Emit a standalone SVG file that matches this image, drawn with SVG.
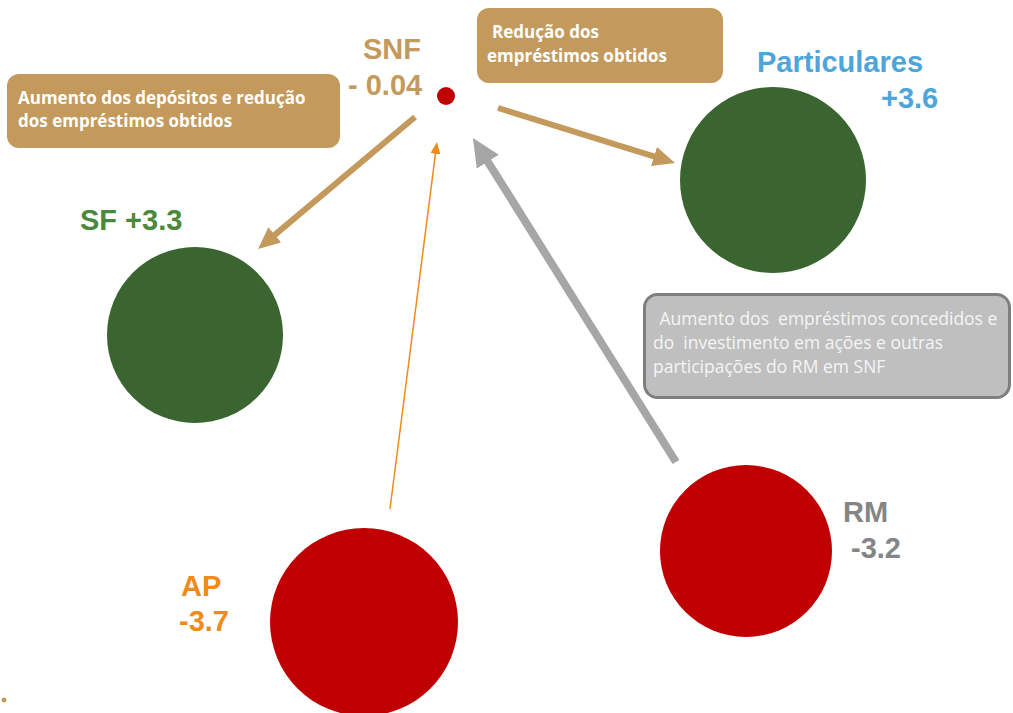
<svg xmlns="http://www.w3.org/2000/svg" width="1013" height="713" viewBox="0 0 1013 713">
<style>
.lbl{font-family:"Liberation Sans",Arial,sans-serif;font-weight:700;font-size:29px}
.tanbox{fill:#c39a5c}
.tantxt{font-family:"Open Sans","Liberation Sans",sans-serif;font-weight:700;font-size:17px;fill:#ffffff}
.graytxt{font-family:"Open Sans","Liberation Sans",sans-serif;font-size:17.5px;fill:#f5f5f5}
.tanline{stroke:#c39a5c;stroke-width:6;fill:none}
</style>
<defs>
<marker id="mTan" markerUnits="userSpaceOnUse" markerWidth="22" markerHeight="20" refX="4" refY="10" orient="auto" viewBox="0 0 22 20"><path d="M0,0 L22,10 L0,20 z" fill="#c39a5c"/></marker>
<marker id="mGray" markerUnits="userSpaceOnUse" markerWidth="28" markerHeight="26" refX="4" refY="13" orient="auto" viewBox="0 0 28 26"><path d="M0,0 L28,13 L0,26 z" fill="#a6a6a6"/></marker>
<marker id="mOrange" markerUnits="userSpaceOnUse" markerWidth="12" markerHeight="10" refX="2" refY="5" orient="auto" viewBox="0 0 12 10"><path d="M0,0 L12,5 L0,10 z" fill="#f08a1a"/></marker>
</defs>
<rect width="1013" height="713" fill="#ffffff"/>
<g id="connectors">
<line class="tanline" x1="415" y1="117" x2="271.8" y2="237.4" marker-end="url(#mTan)"/>
<line class="tanline" x1="498" y1="108" x2="657.8" y2="157.7" marker-end="url(#mTan)"/>
<line x1="676" y1="462" x2="485.7" y2="158.3" stroke="#a6a6a6" stroke-width="8" marker-end="url(#mGray)"/>
<line x1="390" y1="509" x2="435.7" y2="151.9" stroke="#f08a1a" stroke-width="1.5" marker-end="url(#mOrange)"/>
</g>
<g id="box-left">
<rect class="tanbox" x="7" y="74" width="333" height="74" rx="12"/>
<text class="tantxt" x="18" y="104">Aumento dos depósitos e redução</text>
<text class="tantxt" x="18" y="127">dos empréstimos obtidos</text>
</g>
<g id="box-top">
<rect class="tanbox" x="477" y="8" width="246" height="75" rx="12"/>
<text class="tantxt" x="492" y="38">Redução dos</text>
<text class="tantxt" x="487" y="62">empréstimos obtidos</text>
</g>
<g id="box-rm">
<rect x="644.5" y="294.5" width="365" height="103" rx="13" fill="#bfbfbf" stroke="#7f7f7f" stroke-width="3"/>
<text class="graytxt" x="655" y="325" xml:space="preserve"> Aumento dos  empréstimos concedidos e</text>
<text class="graytxt" x="653" y="349" xml:space="preserve">do  investimento em ações e outras</text>
<text class="graytxt" x="653" y="373">participações do RM em SNF</text>
</g>
<g id="node-snf">
<circle cx="446" cy="96" r="9" fill="#c00000"/>
<text class="lbl" x="363" y="59" fill="#c39a5c">SNF</text>
<text class="lbl" x="348" y="95" fill="#c39a5c">- 0.04</text>
</g>
<g id="node-particulares">
<circle cx="773" cy="180" r="93" fill="#3b6530"/>
<text class="lbl" x="757" y="72" fill="#4ea5d9">Particulares</text>
<text class="lbl" x="881" y="108" fill="#4ea5d9">+3.6</text>
</g>
<g id="node-sf">
<circle cx="195" cy="335" r="88" fill="#3b6530"/>
<text class="lbl" x="80" y="230" fill="#4a883c">SF +3.3</text>
</g>
<g id="node-ap">
<circle cx="364" cy="622" r="94" fill="#c00000"/>
<text class="lbl" x="181" y="596" fill="#f08a1a">AP</text>
<text class="lbl" x="179" y="631" fill="#f08a1a">-3.7</text>
</g>
<g id="node-rm">
<circle cx="746" cy="551" r="86" fill="#c00000"/>
<text class="lbl" x="843" y="522" fill="#858585">RM</text>
<text class="lbl" x="851" y="558" fill="#858585">-3.2</text>
</g>
<circle cx="4" cy="700" r="2.5" fill="#c39a5c"/>
</svg>
